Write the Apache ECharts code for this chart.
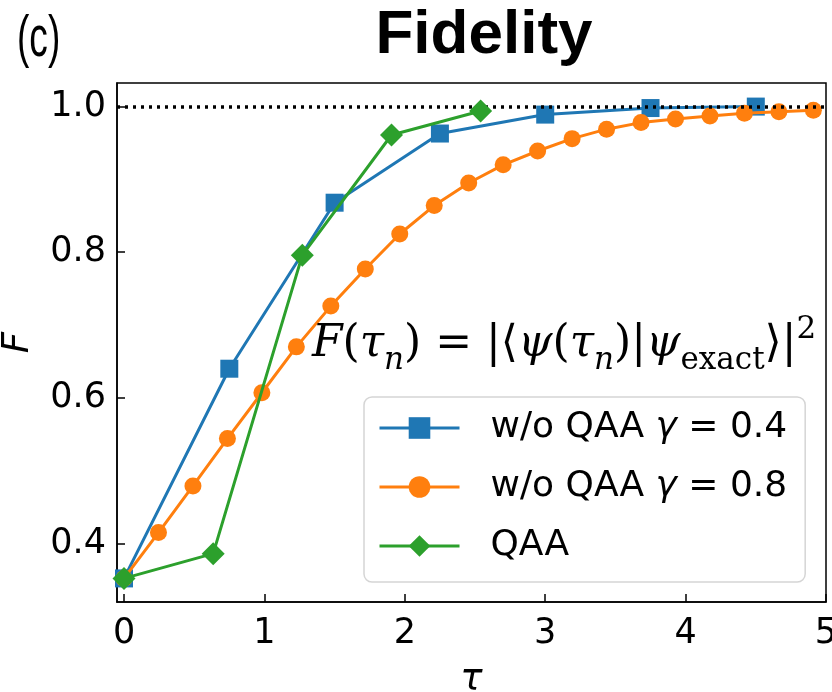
<!DOCTYPE html>
<html>
<head>
<meta charset="utf-8">
<title>Fidelity</title>
<style>
html,body{margin:0;padding:0;background:#fff;}
#main{width:832px;height:692px;}
</style>
<script src="https://cdn.jsdelivr.net/npm/echarts@6/dist/echarts.min.js"></script>
</head>
<body>
<div id="main"></div>
<script>
// data
var tauA = [0, 0.75, 1.5, 2.25, 3.0, 3.75, 4.5];
var fidA = [0.352, 0.640, 0.868, 0.963, 0.989, 0.998, 1.0];

var tauB = [0, 0.2455, 0.491, 0.7365, 0.982, 1.2275, 1.473, 1.7185, 1.964, 2.2095, 2.455,
            2.7005, 2.946, 3.1915, 3.437, 3.6825, 3.928, 4.1735, 4.419, 4.6645, 4.91];
var fidB = [0.352, 0.415, 0.479, 0.544, 0.607, 0.670, 0.726, 0.777, 0.825, 0.864, 0.895,
            0.920, 0.939, 0.956, 0.969, 0.978, 0.983, 0.987, 0.991, 0.993, 0.995];

var tauC = [0, 0.635, 1.27, 1.905, 2.54];
var fidC = [0.352, 0.386, 0.796, 0.961, 0.994];

var names = ['w/o QAA \u03b3 = 0.4', 'w/o QAA \u03b3 = 0.8', 'QAA'];
var xTicks = [0, 1, 2, 3, 4, 5];
var yTicks = [0.4, 0.6, 0.8, 1.0];

function pairs(xs, ys) {
  return xs.map(function (x, i) { return [x, ys[i]]; });
}

var chart = echarts.init(document.getElementById('main'));
var tickFont = {fontFamily: 'DejaVu Sans', fontSize: 35, color: '#000'};

var option = {
  animation: false,
  grid: {left: 117, right: 6, top: 83, bottom: 90, show: true, outerBoundsMode: 'none',
         containLabel: false,
         borderColor: '#000', borderWidth: 1.5, backgroundColor: 'transparent'},
  xAxis: {
    type: 'value', min: -0.05, max: 5,
    name: '\u03c4', nameLocation: 'middle', nameGap: 60,
    nameTextStyle: {fontFamily: 'DejaVu Sans', fontStyle: 'italic', fontSize: 37, color: '#000'},
    axisLine: {show: true, onZero: false, lineStyle: {color: '#000', width: 1.5}},
    axisTick: {show: true, inside: true, length: 8, lineStyle: {color: '#000', width: 1.5},
               customValues: xTicks},
    axisLabel: Object.assign({margin: 14, customValues: xTicks,
               formatter: function (v) { return String(v); }}, tickFont),
    splitLine: {show: false}
  },
  yAxis: {
    type: 'value', min: 0.3196, max: 1.0324,
    name: 'F', nameLocation: 'middle', nameGap: 80, nameRotate: 90,
    nameTextStyle: {fontFamily: 'DejaVu Sans', fontStyle: 'italic', fontSize: 37, color: '#000'},
    axisLine: {show: true, onZero: false, lineStyle: {color: '#000', width: 1.5}},
    axisTick: {show: true, inside: true, length: 8, lineStyle: {color: '#000', width: 1.5},
               customValues: yTicks},
    axisLabel: Object.assign({margin: 11, customValues: yTicks,
               formatter: function (v) { return v.toFixed(1); }}, tickFont),
    splitLine: {show: false}
  },
  legend: {
    orient: 'vertical', left: 364, top: 397,
    padding: [11, 18, 16, 14],
    itemWidth: 80, itemHeight: 27, itemGap: 19,
    lineStyle: {width: 3},
    backgroundColor: '#fff', borderColor: '#d5d5d5', borderWidth: 1.5, borderRadius: 8,
    data: names,
    formatter: function (n) {
      if (n === 'QAA') return '{t|QAA}';
      var parts = n.split('\u03b3');
      return '{t|' + parts[0] + '}{g|\u03b3}{t|' + parts[1] + '}';
    },
    textStyle: {
      fontFamily: 'DejaVu Sans', fontSize: 36, color: '#000', lineHeight: 40,
      padding: [0, 0, 0, 26],
      rich: {
        t: {fontFamily: 'DejaVu Sans', fontSize: 36, color: '#000', lineHeight: 40},
        g: {fontFamily: 'DejaVu Sans', fontStyle: 'italic', fontSize: 36, color: '#000', lineHeight: 40}
      }
    }
  },
  graphic: [
    {type: 'text', left: 17, top: 11, scaleX: 0.64, style: {text: '(c)', fontFamily: 'Liberation Sans',
      fontSize: 58, fill: '#000'}},
    {type: 'text', x: 484, y: 5, style: {text: 'Fidelity', fontFamily: 'Liberation Sans',
      fontWeight: 'bold', fontSize: 62, fill: '#000', align: 'center'}},
    {type: 'text', left: 312, top: 314, z: 10, style: {
      text: '{i|F}{r|(}{i|\u03c4}{s|n}{r|) = |\u27e8}{i|\u03c8}{r|(}{i|\u03c4}{s|n}{r|)|}{i|\u03c8}{e|exact}{r|\u27e9|}{p|2}',
      rich: {
        i: {fontFamily: 'DejaVu Serif', fontStyle: 'italic', fontSize: 44, lineHeight: 62, fill: '#000'},
        r: {fontFamily: 'DejaVu Serif', fontSize: 44, lineHeight: 62, fill: '#000'},
        s: {fontFamily: 'DejaVu Serif', fontStyle: 'italic', fontSize: 31, lineHeight: 62,
            verticalAlign: 'bottom', fill: '#000'},
        e: {fontFamily: 'DejaVu Serif', fontSize: 31, lineHeight: 62,
            verticalAlign: 'bottom', fill: '#000'},
        p: {fontFamily: 'DejaVu Serif', fontSize: 31, lineHeight: 62,
            verticalAlign: 'top', fill: '#000'}
      }
    }}
  ],
  series: [
    {name: names[0], type: 'line', data: pairs(tauA, fidA), symbol: 'rect', symbolSize: 18,
     itemStyle: {color: '#1f77b4'}, lineStyle: {width: 3, color: '#1f77b4'}, z: 3},
    {name: names[1], type: 'line', data: pairs(tauB, fidB), symbol: 'circle', symbolSize: 17,
     itemStyle: {color: '#ff7f0e'}, lineStyle: {width: 3, color: '#ff7f0e'}, z: 4},
    {name: names[2], type: 'line', data: pairs(tauC, fidC), symbol: 'diamond', symbolSize: 23,
     itemStyle: {color: '#2ca02c'}, lineStyle: {width: 3, color: '#2ca02c'}, z: 5},
    {type: 'line', data: [], z: 6, silent: true,
     markLine: {silent: true, symbol: 'none', label: {show: false},
       lineStyle: {type: [3, 5], color: '#000', width: 3.5},
       data: [{yAxis: 1.0}]}}
  ]
};
chart.setOption(option);
</script>
</body>
</html>
